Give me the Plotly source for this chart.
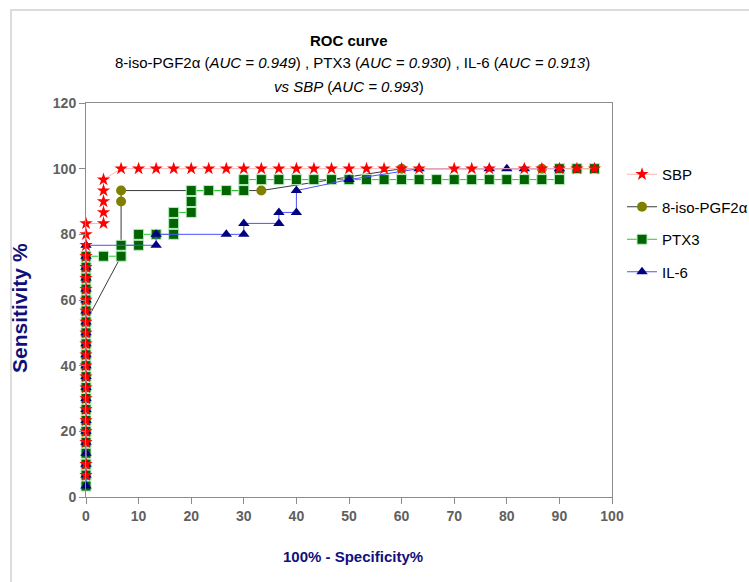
import plotly.graph_objects as go

# ---------------- data ----------------
sbp_x = [0, 0, 0, 0, 0, 0, 0, 0, 0, 0, 0, 0, 0, 0, 0, 0, 0, 0, 0, 0, 0, 0, 0,
         3.33, 3.33, 3.33, 3.33, 3.33,
         6.67, 10, 13.33, 16.67, 20, 23.33, 26.67, 30, 33.33, 36.67, 40, 43.33,
         46.67, 50, 53.33, 56.67, 60, 63.33, 70, 73.33, 76.67, 83.33, 86.67,
         90, 93.33, 96.67]
sbp_y = [6.67, 10, 16.67, 20, 23.33, 26.67, 30, 33.33, 36.67, 40, 43.33, 46.67,
         50, 53.33, 56.67, 60, 63.33, 66.67, 70, 73.33, 76.67, 80, 83.33,
         83.33, 86.67, 90, 93.33, 96.67,
         100, 100, 100, 100, 100, 100, 100, 100, 100, 100, 100, 100,
         100, 100, 100, 100, 100, 100, 100, 100, 100, 100, 100,
         100, 100, 100]

iso_x = [0, 0, 0, 0, 0, 0, 0, 0, 0, 0, 0, 0, 0, 0, 0, 0,
         6.67, 6.67, 6.67, 33.33, 60, 86.67]
iso_y = [3.33, 6.67, 10, 13.33, 16.67, 20, 23.33, 26.67, 30, 33.33, 36.67,
         40, 43.33, 46.67, 50, 53.33,
         73.33, 90, 93.33, 93.33, 100, 100]

ptx_x = [0, 0, 0, 0, 0, 0, 0, 0, 0, 0, 0, 0, 0, 0, 0, 0, 0, 0, 0, 0, 0, 0,
         3.33, 6.67, 6.67, 10, 10, 13.33, 16.67, 16.67, 16.67, 20, 20, 20,
         23.33, 26.67, 30, 30, 33.33, 36.67, 40, 43.33, 46.67, 50, 53.33,
         56.67, 60, 63.33, 66.67, 70, 73.33, 76.67, 80, 83.33, 86.67, 90,
         90, 93.33, 96.67]
ptx_y = [3.33, 6.67, 10, 13.33, 16.67, 20, 23.33, 26.67, 30, 33.33, 36.67,
         40, 43.33, 46.67, 50, 53.33, 56.67, 60, 63.33, 66.67, 70, 73.33,
         73.33, 73.33, 76.67, 76.67, 80, 80, 80, 83.33, 86.67, 86.67, 90, 93.33,
         93.33, 93.33, 93.33, 96.67, 96.67, 96.67, 96.67, 96.67, 96.67, 96.67,
         96.67, 96.67, 96.67, 96.67, 96.67, 96.67, 96.67, 96.67, 96.67, 96.67,
         96.67, 96.67, 100, 100, 100]

il6_x = [0, 0, 0, 0, 0, 0, 0, 0, 0, 0, 0, 0, 0, 0, 0, 0, 0, 0, 0, 0, 0, 0, 0,
         13.33, 13.33, 26.67, 30, 30, 36.67, 36.67, 40, 40, 50, 63.33,
         76.67, 80, 83.33, 90]
il6_y = [3.33, 6.67, 10, 13.33, 16.67, 20, 23.33, 26.67, 30, 33.33, 36.67,
         40, 43.33, 46.67, 50, 53.33, 56.67, 60, 63.33, 66.67, 70, 73.33, 76.67,
         76.67, 80, 80, 80, 83.33, 83.33, 86.67, 86.67, 93.33, 96.67, 100,
         100, 100, 100, 100]

x_ticks = [0, 10, 20, 30, 40, 50, 60, 70, 80, 90, 100]
y_ticks = [0, 20, 40, 60, 80, 100, 120]

FONT = "Liberation Sans, Arial, sans-serif"

fig = go.Figure()

# drawing order: 8-iso (bottom), PTX3, IL-6, SBP (top)
fig.add_trace(go.Scatter(
    x=iso_x, y=iso_y, mode="lines+markers", name="8-iso-PGF2\u03b1",
    legendrank=2, legendgroup="b", cliponaxis=False,
    line=dict(color="#3a3a3a", width=1),
    marker=dict(symbol="circle", size=10, color="#808000",
                line=dict(color="#808000", width=0))))
fig.add_trace(go.Scatter(
    x=ptx_x, y=ptx_y, mode="lines+markers", name="PTX3",
    legendrank=3, legendgroup="c", cliponaxis=False,
    line=dict(color="#22cc22", width=1),
    marker=dict(symbol="square", size=10, color="#006400",
                line=dict(color="#b8ecc0", width=1))))
fig.add_trace(go.Scatter(
    x=il6_x, y=il6_y, mode="lines+markers", name="IL-6",
    legendrank=4, legendgroup="d", cliponaxis=False,
    line=dict(color="#5050ff", width=1),
    marker=dict(symbol="triangle-up", size=10, color="#000080",
                line=dict(width=0))))
fig.add_trace(go.Scatter(
    x=sbp_x, y=sbp_y, mode="lines+markers", name="SBP",
    legendrank=1, legendgroup="a", cliponaxis=False,
    line=dict(color="#ffb4b4", width=1),
    marker=dict(symbol="star", size=10, color="#ff0000",
                line=dict(width=0))))

axis_common = dict(
    showgrid=False, zeroline=False, showline=True, linecolor="#8c8c8c",
    linewidth=1, mirror=True, ticks="outside", ticklen=6, tickcolor="#8c8c8c",
    tickfont=dict(family=FONT, size=14, color="#606060", weight="bold"),
)

fig.update_xaxes(range=[0, 100], tickvals=x_ticks,
                 ticktext=[str(v) for v in x_ticks], **axis_common)
fig.update_yaxes(range=[0, 120], tickvals=y_ticks,
                 ticktext=[str(v) for v in y_ticks], **axis_common)

annos = [
    dict(text="<b>ROC curve</b>", x=0.5, y=(497 - 40) / 394,
         font=dict(family=FONT, size=15, color="#000")),
    dict(text="8-iso-PGF2\u03b1 (<i>AUC = 0.949</i>) , PTX3 (<i>AUC = 0.930</i>) , "
              "IL-6 (<i>AUC = 0.913</i>)",
         x=(352 - 86) / 526, y=(497 - 62) / 394,
         font=dict(family=FONT, size=15, color="#000")),
    dict(text="<i>vs SBP</i> (<i>AUC = 0.993</i>)", x=0.5, y=(497 - 86) / 394,
         font=dict(family=FONT, size=15, color="#000")),
    dict(text="<b>100% - Specificity%</b>", x=(353 - 86) / 526,
         y=(497 - 556) / 394,
         font=dict(family=FONT, size=15, color="#10107a")),
    dict(text="<b>Sensitivity %</b>", x=(19 - 86) / 526, y=(497 - 308) / 394,
         textangle=-90,
         font=dict(family=FONT, size=21, color="#10107a")),
]
for a in annos:
    a.update(xref="paper", yref="paper", showarrow=False,
             xanchor="center", yanchor="middle")
fig.update_layout(annotations=annos)

# outer light-gray frame
fig.add_shape(type="rect", xref="paper", yref="paper",
              x0=(11 - 86) / 526, x1=(800 - 86) / 526,
              y0=(497 - 10) / 394, y1=(497 - 650) / 394,
              line=dict(color="#dcdcdc", width=2), fillcolor="rgba(0,0,0,0)",
              layer="below")

fig.update_layout(
    width=749, height=582,
    margin=dict(l=86, r=137, t=103, b=85, autoexpand=False),
    paper_bgcolor="white", plot_bgcolor="white",
    showlegend=True,
    legend=dict(x=(622 - 86) / 526, y=(497 - 158) / 394,
                xanchor="left", yanchor="top",
                traceorder="grouped", tracegroupgap=10,
                font=dict(family=FONT, size=15, color="#000"),
                bgcolor="rgba(0,0,0,0)"),
)

fig.write_html("out.html")
